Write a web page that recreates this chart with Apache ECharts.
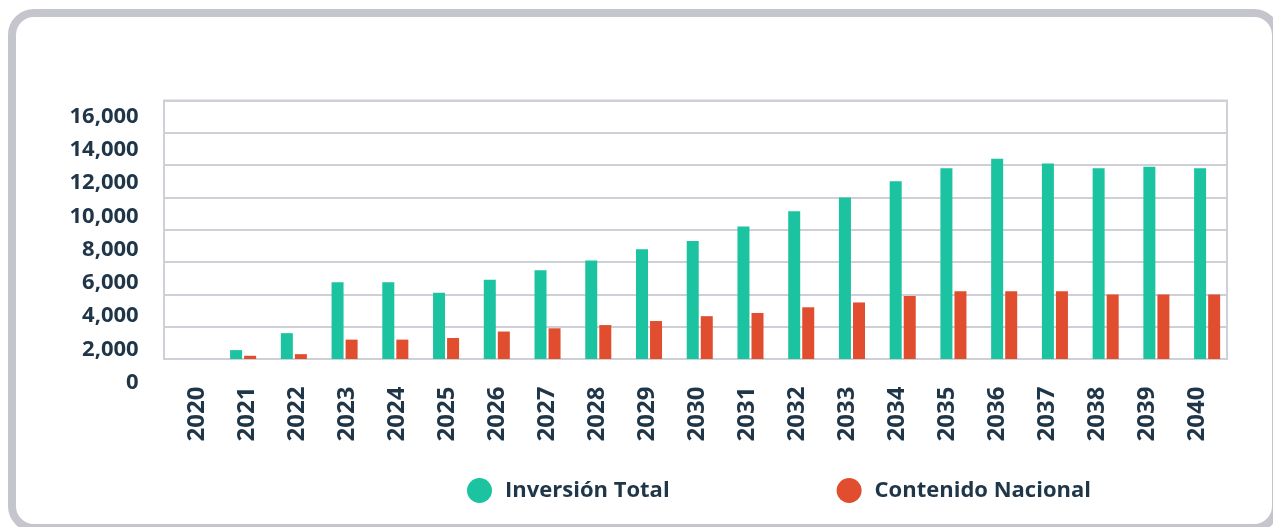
<!DOCTYPE html>
<html>
<head>
<meta charset="utf-8">
<script src="https://cdn.jsdelivr.net/npm/echarts@6/dist/echarts.min.js"></script>
<style>
  html, body { margin: 0; padding: 0; background: #fff; }
  #chart { width: 1273px; height: 527px; }
</style>
</head>
<body>
<div id="chart"></div>
<script>
// years on the x axis
var years = ['2020', '2021', '2022', '2023', '2024', '2025', '2026', '2027', '2028', '2029', '2030',
  '2031', '2032', '2033', '2034', '2035', '2036', '2037', '2038', '2039', '2040']
// Inversión Total
var inversionTotal = [0, 550, 1600, 4750, 4750, 4100, 4900, 5500, 6100, 6800, 7300,
  8200, 9150, 10000, 11000, 11800, 12400, 12100, 11800, 11900, 11800]
// Contenido Nacional
var contenidoNacional = [0, 200, 300, 1200, 1200, 1300, 1700, 1900, 2100, 2350, 2650,
  2850, 3200, 3500, 3900, 4200, 4200, 4200, 4000, 4000, 4000]
var yMin = 0, yMax = 16000, yStep = 2000

var textColor = '#1f3548'
var lineColor = '#cfcfd7'
var fontMain = "'Open Sans', sans-serif"

var myChart = echarts.init(document.getElementById('chart'), null, { renderer: 'canvas' })

var option = {
  animation: false,
  backgroundColor: '#fff',
  graphic: [{
    type: 'rect',
    shape: { x: 12, y: 13, width: 1264, height: 515, r: 22 },
    style: { fill: 'none', stroke: '#c5c5cd', lineWidth: 8 },
    silent: true
  }],
  legend: {
    left: 462,
    top: 473,
    icon: 'circle',
    itemWidth: 25,
    itemHeight: 25,
    itemGap: 167,
    textStyle: {
      color: textColor,
      fontFamily: fontMain,
      fontWeight: 'bold',
      fontSize: 22,
      padding: [0, 0, 0, 8]
    },
    data: ['Inversión Total', 'Contenido Nacional']
  },
  grid: [
    // box and gridlines
    { left: 164, width: 1063, top: 100.5, height: 258.5, show: true, borderColor: lineColor, borderWidth: 2 },
    // bars
    { left: 167, width: 1065.5, top: 100.5, height: 258.5 },
    // tick labels
    { left: 171.7, width: 1050.8, top: 116.7, height: 265.9 }
  ],
  xAxis: [
    { gridIndex: 0, type: 'category', data: years, show: false },
    { gridIndex: 1, type: 'category', data: years, show: false },
    {
      gridIndex: 2, type: 'category', data: years,
      axisLine: { show: false }, axisTick: { show: false }, splitLine: { show: false },
      axisLabel: {
        rotate: 90, margin: 4, interval: 0,
        color: textColor, fontFamily: fontMain, fontWeight: 'bold', fontSize: 24
      }
    }
  ],
  yAxis: [
    {
      gridIndex: 0, type: 'value', min: yMin, max: yMax, interval: yStep,
      axisLine: { show: false }, axisTick: { show: false }, axisLabel: { show: false },
      splitLine: { lineStyle: { color: lineColor, width: 2 } }
    },
    { gridIndex: 1, type: 'value', min: yMin, max: yMax, interval: yStep, show: false, splitLine: { show: false } },
    {
      gridIndex: 2, type: 'value', min: yMin, max: yMax, interval: yStep,
      axisLine: { show: false }, axisTick: { show: false }, splitLine: { show: false },
      axisLabel: {
        margin: 33, showMinLabel: true, showMaxLabel: true,
        color: textColor, fontFamily: fontMain, fontWeight: 'bold', fontSize: 22
      }
    }
  ],
  series: [
    {
      name: 'Inversión Total', type: 'bar', xAxisIndex: 1, yAxisIndex: 1,
      data: inversionTotal, barWidth: 12, barGap: '17%',
      itemStyle: { color: '#1bc3a0' }
    },
    {
      name: 'Contenido Nacional', type: 'bar', xAxisIndex: 1, yAxisIndex: 1,
      data: contenidoNacional, barWidth: 12, barGap: '17%',
      itemStyle: { color: '#e04d2f' }
    }
  ]
}
myChart.setOption(option)
</script>
</body>
</html>
